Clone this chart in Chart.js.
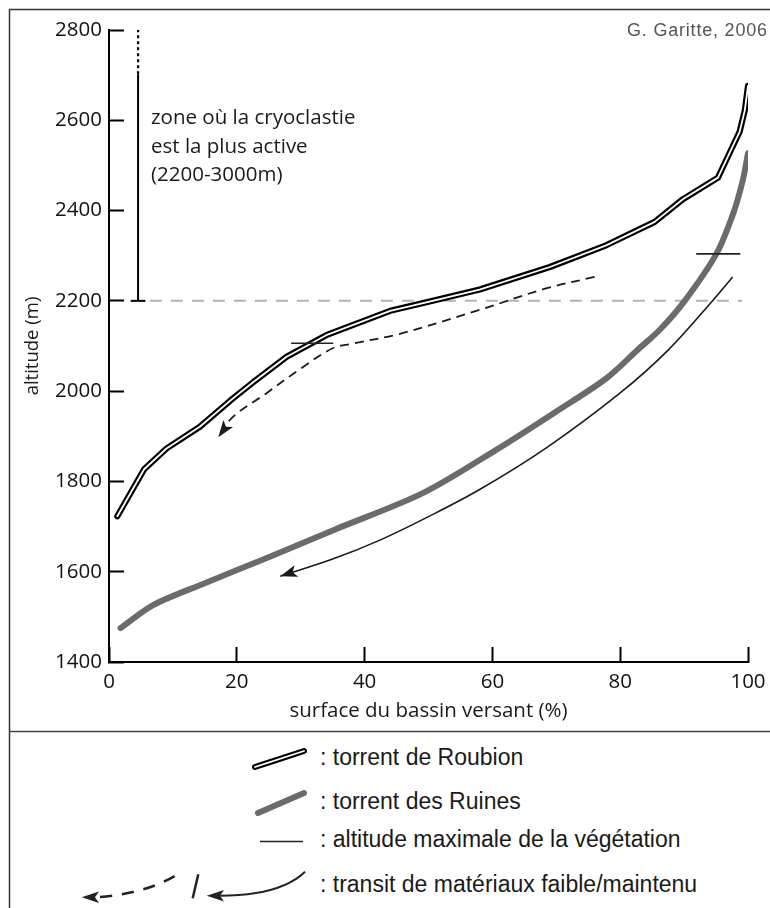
<!DOCTYPE html>
<html>
<head>
<meta charset="utf-8">
<script src="https://cdn.jsdelivr.net/npm/chart.js@4"></script>
<style>
  html, body { margin: 0; padding: 0; background: #fff; }
  body { width: 770px; height: 908px; position: relative; overflow: hidden; }
  #chart { position: absolute; left: 0; top: 0; }
  #deco { position: absolute; left: 0; top: 0; }
  .txt { position: absolute; white-space: nowrap; line-height: 1; }
  .note { font-family: 'Open Sans', sans-serif; font-size: 20.5px; color: #1a1a1a; left: 151px; }
  .leg { font-family: 'Liberation Sans', Arial, sans-serif; font-size: 23px; color: #1a1a1a; left: 320px; }
  .auteur { font-family: 'Liberation Sans', sans-serif; font-size: 18px; color: #555; left: 627px; top: 21px; letter-spacing: 0.8px; }
</style>
</head>
<body>
<svg id="deco" width="770" height="908">
  <!-- cadre -->
  <line x1="9.5" y1="9" x2="9.5" y2="908" stroke="#333" stroke-width="1.5"/>
  <line x1="9" y1="9.5" x2="770" y2="9.5" stroke="#333" stroke-width="1.5"/>
  <line x1="9" y1="731.5" x2="770" y2="731.5" stroke="#444" stroke-width="1.5"/>
  <!-- légende -->
  <line x1="255" y1="767" x2="304" y2="751" stroke="#000" stroke-width="6" stroke-linecap="round"/>
  <line x1="255" y1="767" x2="304" y2="751" stroke="#fff" stroke-width="1.8" stroke-linecap="round"/>
  <line x1="258" y1="813" x2="304" y2="793" stroke="#6b6b6b" stroke-width="6" stroke-linecap="round"/>
  <line x1="260" y1="841.5" x2="303" y2="841.5" stroke="#222" stroke-width="1.5"/>
  <path d="M100 897 Q150 893 181 872" fill="none" stroke="#222" stroke-width="2.6" stroke-dasharray="12,10"/>
  <path d="M81.7 897.3 L99 891.5 L95 897.3 L99 903 Z" fill="#222"/>
  <line x1="192.7" y1="898.3" x2="198.3" y2="874.3" stroke="#222" stroke-width="2.5"/>
  <path d="M218 895.7 Q280 896 305 871.7" fill="none" stroke="#222" stroke-width="2"/>
  <path d="M206.7 895.7 L224 890 L220 895.7 L224 901.5 Z" fill="#222"/>
</svg>
<canvas id="chart" width="770" height="732"></canvas>

<div class="txt auteur">G. Garitte, 2006</div>
<div class="txt note" style="top:106px">zone où la cryoclastie</div>
<div class="txt note" style="top:135px">est la plus active</div>
<div class="txt note" style="top:163px">(2200-3000m)</div>

<div class="txt leg" style="top:746px">: torrent de Roubion</div>
<div class="txt leg" style="top:790px">: torrent des Ruines</div>
<div class="txt leg" style="top:828px">: altitude maximale de la végétation</div>
<div class="txt leg" style="top:873px">: transit de matériaux faible/maintenu</div>

<script>
// surface du bassin versant (%) et altitude (m)
const roubionPct = [1.3, 5.5, 9.0, 14.2, 19.4, 22.5, 27.8, 34.0, 44.0, 50.0, 58.0, 69.0, 77.8, 85.4, 89.8, 95.3, 97.1, 98.7, 99.5, 100];
const roubionAlt = [1723, 1827, 1873, 1921, 1984, 2019, 2076, 2124, 2178, 2198, 2225, 2275, 2323, 2375, 2425, 2473, 2527, 2575, 2622, 2676];

const ruinesPct = [1.8, 6.9, 14.7, 24.6, 35.1, 49.1, 60.6, 70.0, 77.8, 83.0, 86.2, 90.1, 95.05, 97.7, 99.2, 100];
const ruinesAlt = [1475, 1526, 1573, 1630, 1692, 1774, 1870, 1955, 2028, 2095, 2136, 2200, 2304, 2394, 2468, 2527];

// transit maintenu (flèche pleine)
const maintenuPct = [26.8, 35.0, 42.4, 50.0, 58.0, 68.5, 79.9, 87.5, 94.5, 97.6];
const maintenuAlt = [1590, 1628, 1670, 1722, 1782, 1875, 1995, 2091, 2201, 2253];

// transit faible (flèche pointillée)
const faiblePct = [76, 68.5, 58, 45.5, 38, 35, 30, 24.6, 19.4, 17.1];
const faibleAlt = [2253, 2228, 2180, 2127, 2105, 2095, 2050, 1995, 1943, 1898];

// altitude maximale de la végétation
const veg1Pct = [28.5, 35.1];
const veg1Alt = [2106, 2106];
const veg2Pct = [91.9, 98.8];
const veg2Alt = [2304, 2304];

// zone de cryoclastie
const seuilPct = [6.4, 99.1];
const seuilAlt = [2200, 2200];
const cryoPct = [4.55, 4.55];
const cryoAlt = [2200, 2702];
const cryoSupAlt = [2702, 2800];
const basePct = [3.4, 5.7];
const baseAlt = [2200, 2200];

const xTicks = [0, 20, 40, 60, 80, 100];
const yTicks = [1400, 1600, 1800, 2000, 2200, 2400, 2600, 2800];

function pts(xs, ys) {
  return xs.map((x, i) => ({ x: x, y: ys[i] }));
}

function serie(data, color, width, extra) {
  return Object.assign({
    data: data,
    borderColor: color,
    borderWidth: width,
    pointRadius: 0,
    fill: false,
    tension: 0,
    borderCapStyle: 'butt'
  }, extra || {});
}

// pointes de flèche calculées à partir des points des séries
const arrowPlugin = {
  id: 'fleches',
  afterDatasetsDraw(chart) {
    const ctx = chart.ctx;
    chart.data.datasets.forEach((ds, i) => {
      if (!ds.arrowHead) return;
      const pts = chart.getDatasetMeta(i).data;
      let tip, from;
      if (ds.arrowHead === 'start') { tip = pts[0]; from = pts[1]; }
      else { tip = pts[pts.length - 1]; from = pts[pts.length - 2]; }
      const a = Math.atan2(tip.y - from.y, tip.x - from.x);
      const L = 17, W = 6, N = 4;
      ctx.save();
      ctx.translate(tip.x, tip.y);
      ctx.rotate(a);
      ctx.beginPath();
      ctx.moveTo(0, 0);
      ctx.lineTo(-L, -W);
      ctx.lineTo(-L + N, 0);
      ctx.lineTo(-L, W);
      ctx.closePath();
      ctx.fillStyle = '#1a1a1a';
      ctx.fill();
      ctx.restore();
    });
  }
};

const tickFont = { family: 'Open Sans', size: 20.5 };

// chart.js dessine le premier jeu par-dessus les autres
new Chart(document.getElementById('chart'), {
  type: 'line',
  data: {
    datasets: [
      serie(pts(veg1Pct, veg1Alt), '#222', 1.6),
      serie(pts(veg2Pct, veg2Alt), '#222', 1.6),
      serie(pts(roubionPct, roubionAlt), '#fff', 1.8, { borderCapStyle: 'round', borderJoinStyle: 'round' }),
      serie(pts(roubionPct, roubionAlt), '#000', 6.2, { borderCapStyle: 'round', borderJoinStyle: 'round' }),
      serie(pts(ruinesPct, ruinesAlt), '#6b6b6b', 6, { tension: 0.3, borderCapStyle: 'round' }),
      serie(pts(faiblePct, faibleAlt), '#1a1a1a', 1.8, { tension: 0.35, borderDash: [9, 6], arrowHead: 'end' }),
      serie(pts(maintenuPct, maintenuAlt), '#1a1a1a', 1.6, { tension: 0.35, arrowHead: 'start' }),
      serie(pts(basePct, baseAlt), '#000', 2),
      serie(pts(cryoPct, cryoSupAlt), '#000', 2.2, { borderDash: [3, 3] }),
      serie(pts(cryoPct, cryoAlt), '#000', 2),
      serie(pts(seuilPct, seuilAlt), '#b3b3b3', 2, { borderDash: [12, 9] })
    ]
  },
  options: {
    responsive: false,
    animation: false,
    events: [],
    layout: { padding: { left: 0, top: 30, right: 22, bottom: 0 } },
    plugins: { legend: { display: false }, tooltip: { enabled: false } },
    scales: {
      x: {
        type: 'linear',
        min: 0,
        max: 100,
        afterBuildTicks: s => { s.ticks = xTicks.map(v => ({ value: v })); },
        afterFit: s => { s.height = 70; s.paddingLeft = 0; s.paddingRight = 0; },
        grid: { drawOnChartArea: false, tickLength: -15, tickWidth: 2, tickColor: '#000' },
        border: { color: '#000', width: 2 },
        ticks: { padding: 23, color: '#111', font: tickFont, callback: v => String(v) },
        title: {
          display: true,
          text: 'surface du bassin versant (%)',
          color: '#1a1a1a',
          font: { family: 'Open Sans', size: 20.5 },
          padding: { top: 0, bottom: 9 }
        }
      },
      y: {
        type: 'linear',
        min: 1400,
        max: 2800,
        afterBuildTicks: s => { s.ticks = yTicks.map(v => ({ value: v })); },
        afterFit: s => { s.width = 109; s.paddingTop = 0; s.paddingBottom = 0; },
        grid: { drawOnChartArea: false, tickLength: -15, tickWidth: 2, tickColor: '#000' },
        border: { color: '#000', width: 2 },
        ticks: { padding: 22, color: '#111', font: tickFont, callback: v => String(v) },
        title: {
          display: true,
          text: 'altitude (m)',
          color: '#1a1a1a',
          font: { family: 'Open Sans', size: 18.5 },
          padding: { top: 22, bottom: 0 }
        }
      }
    }
  },
  plugins: [arrowPlugin]
});
</script>
</body>
</html>
